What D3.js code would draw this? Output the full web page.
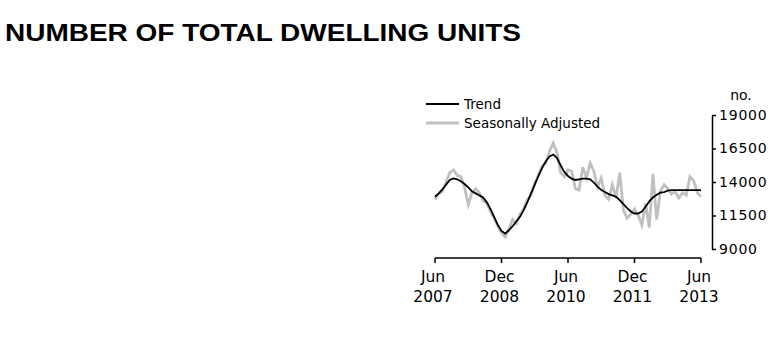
<!DOCTYPE html>
<html><head><meta charset="utf-8">
<script src="https://cdn.jsdelivr.net/npm/d3@7"></script>
<style>body{margin:0;background:#fff}svg{display:block}</style>
</head><body>
<svg id="c" width="784" height="340"></svg>
<script>
const title = "NUMBER OF TOTAL DWELLING UNITS";
const seriesNames = ["Trend", "Seasonally Adjusted"];
const trend = [12900,13150,13450,13800,14150,14270,14200,14050,13850,13600,13300,13150,13000,12850,12500,12000,11400,10800,10350,10150,10400,10700,11050,11400,11900,12500,13150,13800,14450,15050,15550,15900,16050,15800,15250,14750,14450,14250,14150,14200,14250,14250,14200,13950,13650,13400,13250,13100,13000,12900,12650,12350,12050,11800,11650,11650,11800,12150,12550,12850,13050,13200,13250,13350,13400,13400,13400,13400,13400,13400,13400,13400,13400];
const seasAdj = [12700,13100,13300,14000,14700,14900,14500,14400,13600,12300,13200,13500,13200,12600,12400,11800,11300,10700,10200,9900,10500,11200,10900,11600,12000,12700,13000,13900,14500,15200,15400,16300,16900,16200,14700,14400,14900,14800,13500,13400,15100,14300,15400,14800,13600,14300,13000,12700,13800,12800,14700,11900,11300,11600,12000,11500,10800,12400,10600,14600,11200,13300,13800,13500,13100,13300,12800,13200,13000,14400,14100,13200,12900];
const yTicks = [9000, 11500, 14000, 16500, 19000];
const xTickMonths = [0, 18, 36, 54, 72];
const xTickLabels = [["Jun","2007"],["Dec","2008"],["Jun","2010"],["Dec","2011"],["Jun","2013"]];
const yUnit = "no.";

const svg = d3.select("#c");
const font = "'DejaVu Sans',sans-serif";
svg.append("text").attr("x",5).attr("y",41).attr("font-family","'Liberation Sans',Arial,sans-serif")
  .attr("font-weight","bold").attr("font-size",24).attr("fill","#000")
  .attr("textLength",516).attr("lengthAdjust","spacingAndGlyphs").text(title);

const x = d3.scaleLinear().domain([0,72]).range([435,701]);
const y = d3.scaleLinear().domain([9000,19000]).range([249,115]);

// x axis
const xa = svg.append("g").attr("transform","translate(0,258)");
xa.append("line").attr("x1",x(0)).attr("x2",x(72)).attr("stroke","#000").attr("stroke-width",1.5);
xTickMonths.forEach((m,i)=>{
  xa.append("line").attr("x1",x(m)).attr("x2",x(m)).attr("y1",0).attr("y2",5).attr("stroke","#000").attr("stroke-width",1.5);
  xa.append("text").attr("x",x(m)-2).attr("y",24).attr("text-anchor","middle").attr("font-family",font).attr("font-size",15.5).text(xTickLabels[i][0]);
  xa.append("text").attr("x",x(m)-2).attr("y",44).attr("text-anchor","middle").attr("font-family",font).attr("font-size",15.5).text(xTickLabels[i][1]);
});

// y axis on right
const ya = svg.append("g").attr("transform","translate(712,0)");
ya.call(d3.axisRight(y).tickValues(yTicks).tickSize(4).tickPadding(3).tickSizeOuter(0).tickFormat(d3.format("d")));
ya.select(".domain").attr("stroke-width",1.5);
ya.selectAll(".tick line").attr("stroke-width",1.5);
ya.selectAll("text").attr("font-family",font).attr("font-size",14).attr("letter-spacing",0.8).attr("fill","#000");
svg.append("text").attr("x",741).attr("y",100).attr("text-anchor","middle").attr("font-family",font).attr("font-size",14).text(yUnit);

const line = d3.line().x((d,i)=>x(i)).y(d=>y(d));
svg.append("path").datum(seasAdj).attr("d",line).attr("fill","none").attr("stroke","#c0c0c0").attr("stroke-width",2.8);
svg.append("path").datum(trend).attr("d",line).attr("fill","none").attr("stroke","#000").attr("stroke-width",1.8);

// legend
const lg = svg.append("g");
[["#000",1.8,104],["#c0c0c0",2.8,123]].forEach((s,i)=>{
  lg.append("line").attr("x1",426).attr("x2",459).attr("y1",s[2]).attr("y2",s[2]).attr("stroke",s[0]).attr("stroke-width",s[1]);
  lg.append("text").attr("x",464).attr("y",s[2]+5).attr("font-family",font).attr("font-size",13.5).text(seriesNames[i]);
});
</script>
</body></html>
